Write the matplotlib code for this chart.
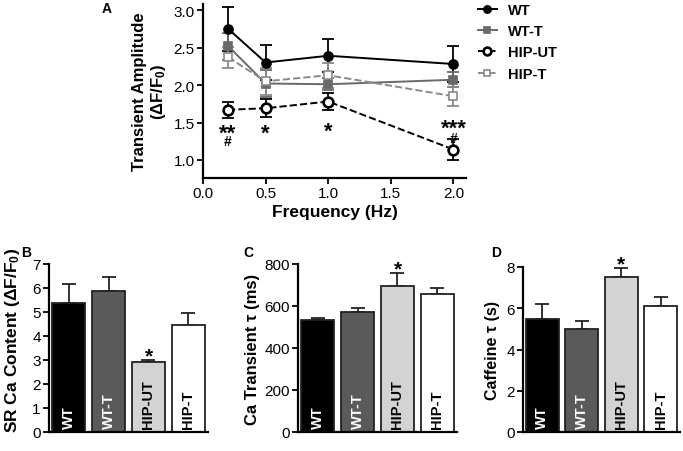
import matplotlib
matplotlib.use('Agg')
import matplotlib.pyplot as plt
import numpy as np

plt.rcParams['font.family'] = ['Liberation Sans', 'DejaVu Sans']
plt.rcParams['mathtext.fontset'] = 'custom'
plt.rcParams['mathtext.rm'] = 'Liberation Sans'
plt.rcParams['mathtext.bf'] = 'Liberation Sans:bold'
plt.rcParams['mathtext.default'] = 'bf'

# panel A data
freq = [0.2, 0.5, 1.0, 2.0]
wt_amp = [2.75, 2.30, 2.39, 2.28]
wt_amp_err = [0.29, 0.23, 0.22, 0.24]
wtt_amp = [2.52, 2.02, 2.01, 2.07]
wtt_amp_err = [0.18, 0.18, 0.08, 0.10]
hipu_amp = [1.67, 1.69, 1.78, 1.14]
hipu_amp_err = [0.11, 0.12, 0.11, 0.14]
hipt_amp = [2.37, 2.05, 2.13, 1.85]
hipt_amp_err = [0.14, 0.18, 0.17, 0.13]

# bar panels
groups = ['WT', 'WT-T', 'HIP-UT', 'HIP-T']
sr_content = [5.37, 5.87, 2.90, 4.47]
sr_content_err = [0.80, 0.58, 0.08, 0.50]
transient_tau = [535, 573, 695, 658]
transient_tau_err = [7, 17, 60, 27]
caffeine_tau = [5.5, 5.0, 7.5, 6.1]
caffeine_tau_err = [0.7, 0.4, 0.45, 0.45]

bar_colors = ['#000000', '#5a5a5a', '#d3d3d3', '#ffffff']
text_colors = ['white', 'white', 'black', 'black']

W, H = 683, 452
fig = plt.figure(figsize=(W / 100, H / 100), dpi=100)


def px_axes(x0, y0, x1, y1):
    # pixel box (top-left origin) -> figure axes
    return fig.add_axes([x0 / W, 1 - y1 / H, (x1 - x0) / W, (y1 - y0) / H])


def style(ax):
    for s in ['top', 'right']:
        ax.spines[s].set_visible(False)
    for s in ['left', 'bottom']:
        ax.spines[s].set_linewidth(1.6)
    ax.tick_params(width=1.3, length=4, labelsize=11, pad=2)


# %%
# Panel A
axA = px_axes(203, 5, 466, 179)
style(axA)
series = [
    ('WT', wt_amp, wt_amp_err, 'k', 'o', '-', 'k', 6.5),
    ('WT-T', wtt_amp, wtt_amp_err, '#6a6a6a', 's', '-', '#6a6a6a', 5.5),
    ('HIP-UT', hipu_amp, hipu_amp_err, 'k', 'o', '--', 'white', 7),
    ('HIP-T', hipt_amp, hipt_amp_err, '#8a8a8a', 's', '--', 'white', 6),
]
for name, y, e, c, m, ls, fc, ms in series:
    axA.errorbar(freq, y, yerr=e, fmt='none', ecolor=c, elinewidth=1.3,
                 capsize=4, capthick=1.3, zorder=2)
    lw_m = 1.9 if name == 'HIP-UT' else 1.2
    axA.plot(freq, y, color=c, ls=ls, lw=1.4, marker=m, markersize=ms,
             markerfacecolor=fc, markeredgecolor=c, markeredgewidth=lw_m,
             label=name, zorder=3)

axA.set_xlim(0, 2.1)
axA.set_ylim(0.76, 3.08)
axA.set_xticks([0.0, 0.5, 1.0, 1.5, 2.0])
axA.set_yticks([1.0, 1.5, 2.0, 2.5, 3.0])
axA.set_xticklabels(['0.0', '0.5', '1.0', '1.5', '2.0'])
axA.set_yticklabels(['1.0', '1.5', '2.0', '2.5', '3.0'])
axA.set_xlabel('Frequency (Hz)', fontsize=12.5, fontweight='bold', labelpad=3)
axA.set_ylabel('Transient Amplitude\n(ΔF/F$_0$)', fontsize=12,
               fontweight='bold', labelpad=4, linespacing=1.15)

# significance marks
star_kw = dict(ha='center', va='top', fontsize=16, fontweight='bold')
hash_kw = dict(ha='center', va='top', fontsize=10, fontweight='bold')
axA.text(0.2, 1.50, '**', **star_kw)
axA.text(0.2, 1.35, '#', **hash_kw)
axA.text(0.5, 1.50, '*', **star_kw)
axA.text(1.0, 1.53, '*', **star_kw)
axA.text(2.0, 1.57, '***', **star_kw)
axA.text(2.0, 1.39, '#', **hash_kw)

fig.legend(*axA.get_legend_handles_labels(), loc='upper left',
           bbox_to_anchor=(472 / W, 1 + 2 / H), frameon=False,
           prop={'weight': 'bold', 'size': 10.5}, handlelength=1.3,
           handletextpad=0.8, labelspacing=0.5, borderaxespad=0,
           markerscale=0.8)


# %%
# Panels B, C, D
def bar_panel(box, vals, errs, ylim, yticks, ylabel, lab_xy, lsize=12.5):
    ax = px_axes(*box)
    style(ax)
    xs = np.arange(len(groups))
    ax.bar(xs, vals, width=0.83, color=bar_colors, edgecolor='#222222',
           linewidth=1.3, zorder=2)
    ax.errorbar(xs, vals, yerr=[np.zeros(len(errs)), errs], fmt='none',
                ecolor='#222222', elinewidth=1.3, capsize=5, capthick=1.3,
                zorder=1)
    for x, g, tc in zip(xs, groups, text_colors):
        ax.text(x, ylim[1] * 0.025, g, rotation=90, ha='center', va='bottom',
                color=tc, fontsize=10.5, fontweight='bold', zorder=3)
    # HIP-UT is significantly different in every bar panel
    i = 2
    ax.text(xs[i], vals[i] + errs[i] + ylim[1] * 0.085, '*', ha='center',
            va='top', fontsize=15, fontweight='bold')
    ax.set_xlim(-0.49, 3.49)
    ax.set_ylim(*ylim)
    ax.set_yticks(yticks)
    ax.set_xticks([])
    ax.set_ylabel(ylabel, fontsize=lsize, fontweight='bold')
    ax.yaxis.set_label_coords(*lab_xy)
    return ax


bar_panel((49, 265, 208, 433), sr_content, sr_content_err, (0, 7),
          range(0, 8), 'SR Ca Content (ΔF/F$_0$)', (-0.17, 0.55), lsize=12.5)
bar_panel((298, 265, 457, 433), transient_tau, transient_tau_err, (0, 800),
          range(0, 801, 200), 'Ca Transient τ (ms)', (-0.24, 0.5), lsize=12)
bar_panel((523, 268, 680, 433), caffeine_tau, caffeine_tau_err, (0, 8),
          range(0, 9, 2), 'Caffeine τ (s)', (-0.145, 0.5), lsize=11.5)

# panel letters
for lab, x, y in [('A', 107, 9), ('B', 26, 253), ('C', 248, 253), ('D', 496, 253)]:
    fig.text(x / W, 1 - y / H, lab, ha='center', va='center', fontsize=10,
             fontweight='bold')

fig.savefig('out.png', dpi=100)
